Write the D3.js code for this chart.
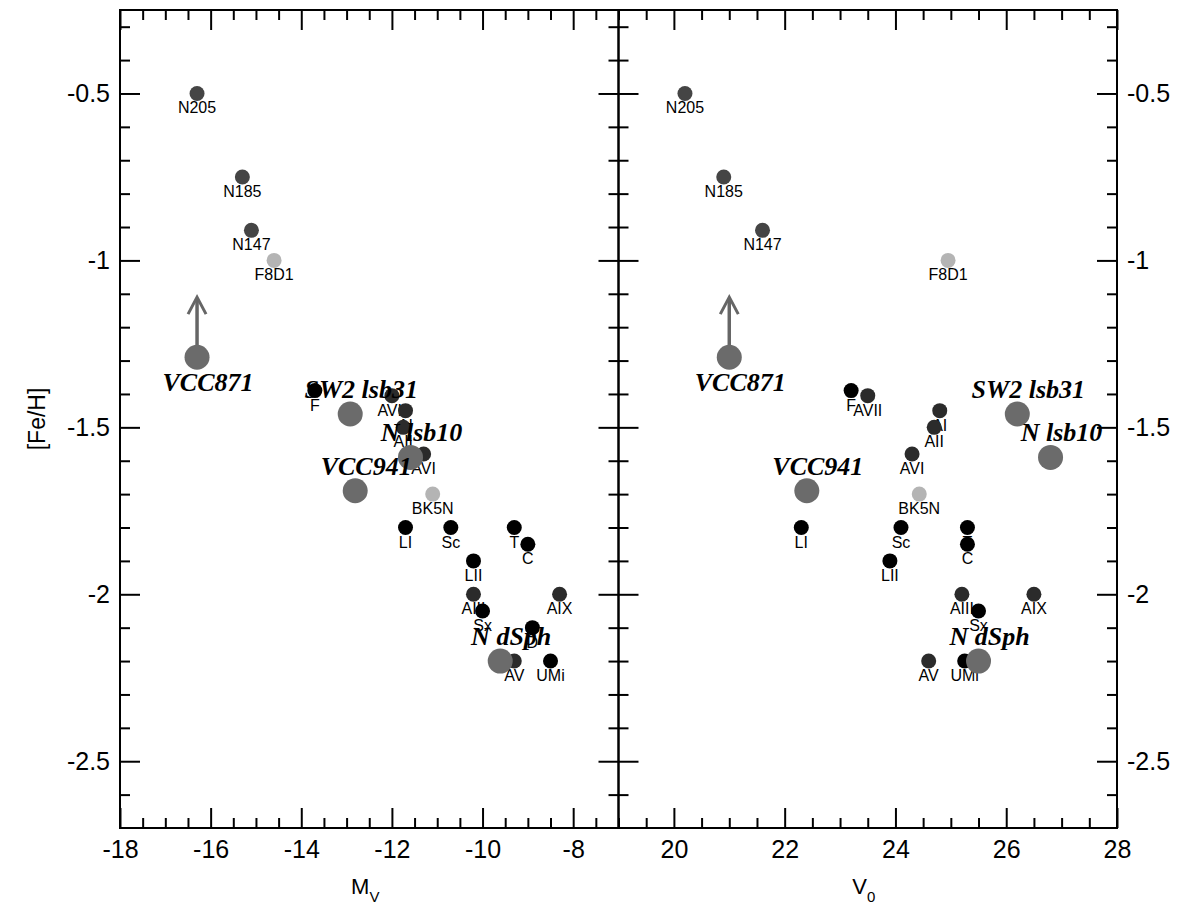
<!DOCTYPE html>
<html>
<head>
<meta charset="utf-8">
<script src="https://cdn.jsdelivr.net/npm/d3@7"></script>
<style>
  body { margin: 0; background: #fff; }
  svg { font-family: "Liberation Sans", Arial, sans-serif; }
</style>
</head>
<body>
<div id="chart"></div>
<script>
// small galaxies
const names = ["N205","N185","N147","F8D1","F","AVII","AI","AII","AVI","BK5N","LI","Sc","T","C","LII","AIII","Sx","AIX","D","AV","UMi"];
const kind  = ["dE","dE","dE","faint","mw","m31","m31","m31","m31","faint","mw","mw","mw","mw","mw","m31","mw","m31","mw","m31","mw"];
const mv    = [-16.3,-15.3,-15.1,-14.6,-13.7,-12.0,-11.7,-11.75,-11.3,-11.1,-11.7,-10.7,-9.3,-9.0,-10.2,-10.2,-10.0,-8.3,-8.9,-9.3,-8.5];
const v0    = [20.2,20.9,21.6,24.95,23.2,23.5,24.8,24.7,24.3,24.43,22.3,24.1,25.3,25.3,23.9,25.2,25.5,26.5,null,24.6,25.25];
const feh   = [-0.5,-0.75,-0.91,-1.0,-1.39,-1.405,-1.45,-1.5,-1.58,-1.7,-1.8,-1.8,-1.8,-1.85,-1.9,-2.0,-2.05,-2.0,-2.1,-2.2,-2.2];

// the new objects (big grey dots)
const newNames = ["VCC871","SW2 lsb31","VCC941","N lsb10","N dSph"];
const newMv    = [-16.3,-12.92,-12.81,-11.59,-9.61];
const newV0    = [21.0,26.2,22.4,26.8,25.5];
const newFeh   = [-1.29,-1.46,-1.69,-1.59,-2.2];
const arrowTip = -1.11; // VCC871 lower limit

const fill = { dE: "#454545", faint: "#b4b4b4", mw: "#000", m31: "#2b2b2b" };

const width = 1200, height = 917;
const yTop = 10, yBottom = 828;

const svg = d3.select("#chart").append("svg")
  .attr("width", width).attr("height", height);

const y = d3.scaleLinear().domain([-2.7, -0.25]).range([yBottom, yTop]);
const xL = d3.scaleLinear().domain([-18, -7]).range([120, 618.5]);
const xR = d3.scaleLinear().domain([19, 28]).range([618.5, 1117]);

const yMajor = [-0.5, -1, -1.5, -2, -2.5];
const yMinor = d3.range(-26, -2).filter(d => d % 5 !== 0).map(d => d / 10);

function xTicks(scale, major, minor) {
  svg.append("g").attr("transform", `translate(0,${yBottom})`)
    .call(d3.axisBottom(scale).tickValues(major).tickSize(-20).tickPadding(12).tickFormat(d => String(d)));
  svg.append("g").attr("transform", `translate(0,${yBottom})`)
    .call(d3.axisBottom(scale).tickValues(minor).tickSize(-10).tickFormat(""));
  svg.append("g").attr("transform", `translate(0,${yTop})`)
    .call(d3.axisTop(scale).tickValues(major).tickSize(-20).tickFormat(""));
  svg.append("g").attr("transform", `translate(0,${yTop})`)
    .call(d3.axisTop(scale).tickValues(minor).tickSize(-10).tickFormat(""));
}

xTicks(xL, d3.range(-18, -7, 2), d3.range(-35, -14).filter(d => d % 4 !== 0).map(d => d / 2));
xTicks(xR, d3.range(20, 29, 2), d3.range(38, 56).filter(d => d % 4 !== 0).map(d => d / 2));

// left side y axis with labels
svg.append("g").attr("transform", `translate(${xL(-18)},0)`)
  .call(d3.axisLeft(y).tickValues(yMajor).tickSize(-20).tickPadding(10).tickFormat(d => String(d)));
svg.append("g").attr("transform", `translate(${xL(-18)},0)`)
  .call(d3.axisLeft(y).tickValues(yMinor).tickSize(-10).tickFormat(""));
// divider: ticks both ways
[-20, 20].forEach(s => {
  svg.append("g").attr("transform", `translate(${xR(19)},0)`)
    .call(d3.axisLeft(y).tickValues(yMajor).tickSize(s).tickFormat(""));
  svg.append("g").attr("transform", `translate(${xR(19)},0)`)
    .call(d3.axisLeft(y).tickValues(yMinor).tickSize(s / 2).tickFormat(""));
});
// right side y axis with labels
svg.append("g").attr("transform", `translate(${xR(28)},0)`)
  .call(d3.axisRight(y).tickValues(yMajor).tickSize(-20).tickPadding(10).tickFormat(d => String(d)));
svg.append("g").attr("transform", `translate(${xR(28)},0)`)
  .call(d3.axisRight(y).tickValues(yMinor).tickSize(-10).tickFormat(""));

svg.selectAll(".domain").remove();
svg.selectAll(".tick line").attr("stroke", "#000").attr("stroke-width", 2);
svg.selectAll(".tick text").attr("font-size", 25).attr("fill", "#000")
  .attr("font-family", "'Liberation Sans', Arial, sans-serif");

// frames
[xL, xR].forEach(x => {
  svg.append("rect")
    .attr("x", x.range()[0]).attr("y", yTop)
    .attr("width", x.range()[1] - x.range()[0]).attr("height", yBottom - yTop)
    .attr("fill", "none").attr("stroke", "#000").attr("stroke-width", 2);
});

// axis titles
const mvLab = svg.append("text").attr("x", (xL.range()[0] + xL.range()[1]) / 2 - 4).attr("y", 894)
  .attr("text-anchor", "middle").attr("font-size", 22).text("M");
mvLab.append("tspan").attr("dy", 8).attr("font-size", 15).text("V");
const v0Lab = svg.append("text").attr("x", (xR.range()[0] + xR.range()[1]) / 2 - 4).attr("y", 894)
  .attr("text-anchor", "middle").attr("font-size", 22).text("V");
v0Lab.append("tspan").attr("dy", 8).attr("font-size", 15).text("0");
svg.append("text")
  .attr("transform", `translate(45,${(yTop + yBottom) / 2}) rotate(-90)`)
  .attr("text-anchor", "middle").attr("font-size", 23).text("[Fe/H]");

function panel(x, xs, newXs) {
  const g = svg.append("g");
  names.forEach((n, i) => {
    if (xs[i] == null) return;
    g.append("circle").attr("cx", x(xs[i])).attr("cy", y(feh[i])).attr("r", 7.5)
      .attr("fill", fill[kind[i]]);
    g.append("text").attr("x", x(xs[i])).attr("y", y(feh[i]) + 20)
      .attr("text-anchor", "middle").attr("font-size", 16).attr("fill", "#000").text(n);
  });
  // arrow for VCC871
  const ax = x(newXs[0]);
  g.append("line").attr("x1", ax).attr("x2", ax)
    .attr("y1", y(newFeh[0]) - 10).attr("y2", y(arrowTip) + 1)
    .attr("stroke", "#666").attr("stroke-width", 3.5);
  g.append("path")
    .attr("d", `M${ax - 9},${y(arrowTip) + 17} L${ax},${y(arrowTip)} L${ax + 9},${y(arrowTip) + 17}`)
    .attr("fill", "none").attr("stroke", "#666").attr("stroke-width", 3);
  newNames.forEach((n, i) => {
    g.append("circle").attr("cx", x(newXs[i])).attr("cy", y(newFeh[i])).attr("r", 12.5)
      .attr("fill", "#6b6b6b");
  });
  newNames.forEach((n, i) => {
    const below = i === 0;
    g.append("text").attr("x", x(newXs[i]) + 11)
      .attr("y", y(newFeh[i]) + (below ? 34 : -16))
      .attr("text-anchor", "middle")
      .attr("font-family", "'Liberation Serif', 'Times New Roman', serif")
      .attr("font-weight", "bold").attr("font-style", "italic")
      .attr("font-size", 26).attr("fill", "#000").text(n);
  });
}

panel(xL, mv, newMv);
panel(xR, v0, newV0);
</script>
</body>
</html>
